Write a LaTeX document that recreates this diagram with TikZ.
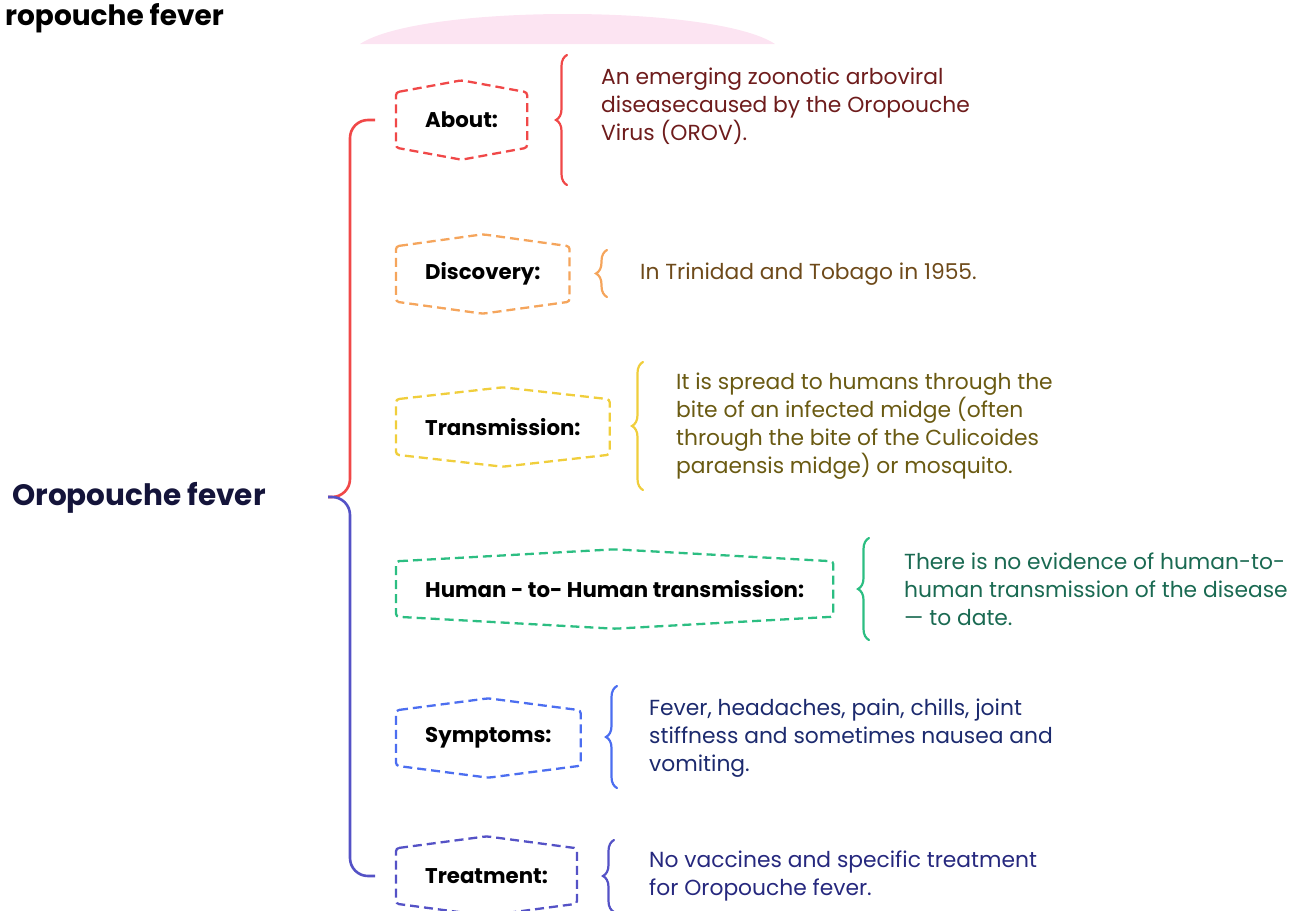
\documentclass[tikz,border=0pt]{standalone}
\usepackage{fontspec}
\setmainfont{Poppins}
\usetikzlibrary{
    calc,
    decorations.pathreplacing,
    positioning
}
\definecolor{aboutred}{HTML}{F04848}
\definecolor{aboutink}{HTML}{6E1C1C}
\definecolor{discorange}{HTML}{F5A55C}
\definecolor{discink}{HTML}{6E4A1A}
\definecolor{transyellow}{HTML}{F0CE3C}
\definecolor{transink}{HTML}{6A5A12}
\definecolor{humangreen}{HTML}{2CBE82}
\definecolor{humanink}{HTML}{1A6A52}
\definecolor{sympblue}{HTML}{4C6EF0}
\definecolor{sympink}{HTML}{1C2A6E}
\definecolor{treatpurple}{HTML}{5452C6}
\definecolor{treatink}{HTML}{26287E}
\definecolor{rootink}{HTML}{14143A}
\definecolor{haze}{HTML}{FCE4F2}
\tikzset{
    % Box styles
    topic box/.style={
        rectangle,
        minimum height=55pt,
        inner xsep=29pt,
        anchor=west,
        font=\fontsize{21.3}{25}\selectfont\bfseries,
        text=black
    },
    hex frame/.style={
        dashed,
        dash pattern=on 9pt off 5pt,
        line width=2.3pt,
        rounded corners=3pt
    },
    % Text styles
    info text/.style={
        anchor=west,
        align=left,
        inner sep=0pt,
        font=\fontsize{21.8}{28}\selectfont
    },
    % Line styles
    info brace/.style={
        decorate,
        decoration={brace, amplitude=11pt},
        line width=2.2pt,
        line cap=round
    },
    tree line/.style={
        line width=2.6pt,
        rounded corners=18pt
    }
}
\newcommand{\hexframe}[2]{%
    \draw[hex frame, #2] (#1.north west) -- ([yshift=12pt]#1.north)
        -- (#1.north east) -- (#1.south east) -- ([yshift=-12pt]#1.south)
        -- (#1.south west) -- cycle;}

\begin{document}
\begin{tikzpicture}[x=1pt, y=1pt]
    \useasboundingbox (0,0) rectangle (1297,-910);
    \begin{scope}
        \clip (0,0) rectangle (1297,-910);
        \fill[haze] (360,-44) .. controls (420,-4) and (715,-4) .. (775,-44) -- cycle;
    \end{scope}
    \node[anchor=east, inner sep=0pt, font=\fontsize{28}{32}\selectfont\bfseries] (head) at (224,-18) {ropouche fever};

    \node[font=\fontsize{29.5}{34}\selectfont\bfseries, text=rootink] (root) at (139,-498) {Oropouche fever};
    \coordinate (fork) at (328,-497);

    \node[topic box] (about) at (396,-120) {About:};
    \node[topic box] (discovery) at (396,-274) {Discovery:};
    \node[topic box] (transmission) at (396,-427) {Transmission:};
    \node[topic box] (human) at (396,-589) {Human - to- Human transmission:};
    \node[topic box] (symptoms) at (396,-738) {Symptoms:};
    \node[topic box] (treatment) at (396,-876) {Treatment:};

    \hexframe{about}{aboutred}
    \hexframe{discovery}{discorange}
    \hexframe{transmission}{transyellow}
    \hexframe{human}{humangreen}
    \hexframe{symptoms}{sympblue}
    \hexframe{treatment}{treatpurple}

    \draw[tree line, aboutred] (fork) -- ++(22,0) |- ([xshift=-21pt]about.west);
    \draw[tree line, treatpurple] (fork) -- ++(22,0) |- ([xshift=-21pt]treatment.west);

    \node[info text, text=aboutink] (aboutinfo) at (601,-106) {An emerging zoonotic arboviral\\diseasecaused by the Oropouche\\Virus (OROV).};
    \node[info text, text=discink] (discinfo) at (640,-274) {In Trinidad and Tobago in 1955.};
    \node[info text, text=transink] (transinfo) at (676,-426) {It is spread to humans through the\\bite of an infected midge (often\\through the bite of the Culicoides\\paraensis midge) or mosquito.};
    \node[info text, text=humanink] (humaninfo) at (904,-589) {There is no evidence of human-to-\\human transmission of the disease\\--- to date.};
    \node[info text, text=sympink] (sympinfo) at (649,-738) {Fever, headaches, pain, chills, joint\\stiffness and sometimes nausea and\\vomiting.};
    \node[info text, text=treatink] (treatinfo) at (649,-876) {No vaccines and specific treatment\\for Oropouche fever.};

    \coordinate (aboutlow) at (567,-185);
    \coordinate (abouthigh) at (567,-55);
    \coordinate (disclow) at (607,-297);
    \coordinate (dischigh) at (607,-250);
    \coordinate (translow) at (643,-490);
    \coordinate (transhigh) at (643,-362);
    \coordinate (humanlow) at (869,-640);
    \coordinate (humanhigh) at (869,-538);
    \coordinate (symplow) at (617,-788);
    \coordinate (symphigh) at (617,-686);
    \coordinate (treatlow) at (614,-912);
    \coordinate (treathigh) at (614,-840);

    \draw[info brace, aboutred] (aboutlow) -- (abouthigh);
    \draw[info brace, discorange] (disclow) -- (dischigh);
    \draw[info brace, transyellow] (translow) -- (transhigh);
    \draw[info brace, humangreen] (humanlow) -- (humanhigh);
    \draw[info brace, sympblue] (symplow) -- (symphigh);
    \draw[info brace, treatpurple] (treatlow) -- (treathigh);
\end{tikzpicture}
\end{document}
